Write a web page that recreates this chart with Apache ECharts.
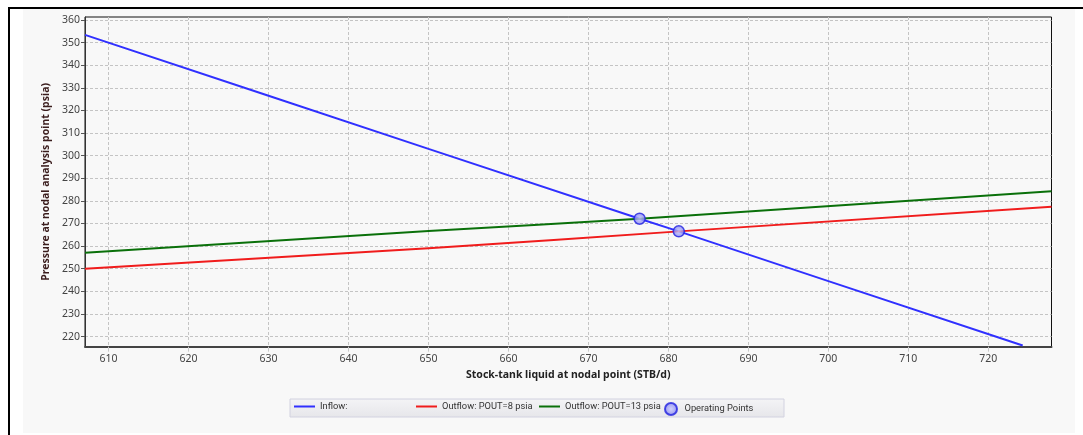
<!DOCTYPE html>
<html>
<head>
<meta charset="utf-8">
<script src="https://cdn.jsdelivr.net/npm/echarts@6.0.0/dist/echarts.min.js"></script>
<style>
html,body{margin:0;padding:0;background:#fff;}
#chart{width:1083px;height:435px;}
</style>
</head>
<body>
<div id="chart"></div>
<script>
// ---- data ----
const inflowX = [607.05, 630, 650, 676.4, 681.3, 700, 724.3];
const inflowY = [353.4, 326.5, 303.0, 272.1, 266.5, 244.5, 216.0];
const out8X = [607.05, 650, 681.3, 727.9];
const out8Y = [250.0, 259.0, 266.5, 277.4];
const out13X = [607.05, 650, 676.4, 727.9];
const out13Y = [257.0, 266.7, 272.1, 284.2];
const opX = [676.4, 681.3];
const opY = [272.1, 266.5];
const xTicks = [610, 620, 630, 640, 650, 660, 670, 680, 690, 700, 710, 720];
const yTicks = [220, 230, 240, 250, 260, 270, 280, 290, 300, 310, 320, 330, 340, 350, 360];
const seriesNames = ['Inflow:', 'Outflow: POUT=8 psia', 'Outflow: POUT=13 psia', 'Operating Points'];

const zip = (xs, ys) => xs.map((x, i) => [x, ys[i]]);
const FONT = '"Noto Sans", "Open Sans", sans-serif';
const LFONT = 'Roboto, "Noto Sans", sans-serif';

const chart = echarts.init(document.getElementById('chart'), null, {renderer: 'canvas'});

const legendBase = {
  top: 402, padding: 0, itemWidth: 21, itemHeight: 2, selectedMode: false,
  textStyle: {fontFamily: LFONT, fontSize: 9.3, color: '#333'}
};

chart.setOption({
  backgroundColor: '#ffffff',
  animation: false,
  graphic: [
    {type: 'rect', z: -10, shape: {x: 23, y: 8, width: 1052, height: 425}, style: {fill: '#f8f8f8'}},
    {type: 'rect', z: -5, shape: {x: 8, y: 7, width: 1075, height: 2}, style: {fill: '#000'}},
    {type: 'rect', z: -5, shape: {x: 8, y: 7, width: 2, height: 428}, style: {fill: '#000'}},
    {type: 'rect', z: -5, shape: {x: 290, y: 399, width: 494, height: 18},
      style: {fill: new echarts.graphic.LinearGradient(0, 0, 0, 1, [{offset: 0, color: '#f4f4f6'}, {offset: 1, color: '#e6e6ea'}]),
              stroke: '#d2d2e0', lineWidth: 1}}
  ],
  grid: {left: 85, top: 17, width: 966.5, height: 329.7, show: true, borderColor: '#111', borderWidth: 1, backgroundColor: 'transparent'},
  xAxis: {
    type: 'value', min: 607.05, max: 727.9,
    name: 'Stock-tank liquid at nodal point (STB/d)', nameLocation: 'middle', nameGap: 23,
    nameTextStyle: {fontFamily: FONT, fontSize: 10.5, fontWeight: 'bold', color: '#222'},
    axisLine: {show: true, onZero: false, lineStyle: {color: '#444', width: 2}},
    axisTick: {show: true, length: 5, customValues: xTicks, lineStyle: {color: '#c8c8c8'}},
    axisLabel: {customValues: xTicks, fontFamily: FONT, fontSize: 10.5, color: '#444', margin: 7},
    splitLine: {show: true, lineStyle: {color: '#c4c4c4', type: [3, 2], width: 1}}
  },
  yAxis: {
    type: 'value', min: 215.5, max: 361.3,
    name: 'Pressure at nodal analysis point (psia)', nameLocation: 'middle', nameGap: 27,
    nameTextStyle: {fontFamily: FONT, fontSize: 10.5, fontWeight: 'bold', color: '#3a1c1c'},
    axisLine: {show: true, onZero: false, lineStyle: {color: '#333', width: 1}},
    axisTick: {show: true, length: 4, customValues: yTicks, lineStyle: {color: '#555'}},
    axisLabel: {customValues: yTicks, fontFamily: FONT, fontSize: 10.5, color: '#444', margin: 5},
    splitLine: {show: true, lineStyle: {color: '#c4c4c4', type: [3, 2], width: 1}}
  },
  legend: [
    Object.assign({}, legendBase, {left: 294, data: [{name: seriesNames[0], icon: 'rect'}]}),
    Object.assign({}, legendBase, {left: 416, data: [{name: seriesNames[1], icon: 'rect'}]}),
    Object.assign({}, legendBase, {left: 539, data: [{name: seriesNames[2], icon: 'rect'}]}),
    Object.assign({}, legendBase, {left: 664, top: 402, itemWidth: 17, itemHeight: 12, data: [{name: seriesNames[3], icon: 'circle'}]})
  ],
  series: [
    {name: seriesNames[0], type: 'line', data: zip(inflowX, inflowY), showSymbol: false, smooth: false,
      lineStyle: {color: '#3030ff', width: 2}, itemStyle: {color: '#3030ff'}},
    {name: seriesNames[1], type: 'line', data: zip(out8X, out8Y), showSymbol: false, smooth: true,
      lineStyle: {color: '#f01c1c', width: 2}, itemStyle: {color: '#f01c1c'}},
    {name: seriesNames[2], type: 'line', data: zip(out13X, out13Y), showSymbol: false, smooth: true,
      lineStyle: {color: '#0a700a', width: 2}, itemStyle: {color: '#0a700a'}},
    {name: seriesNames[3], type: 'scatter', data: zip(opX, opY), symbol: 'circle', symbolSize: 11, z: 5,
      itemStyle: {color: new echarts.graphic.RadialGradient(0.5, 0.5, 0.5, [{offset: 0, color: '#c8c8ff'}, {offset: 1, color: '#8080f0'}]),
                  borderColor: '#2020e0', borderWidth: 1.5}}
  ]
});
</script>
</body>
</html>
